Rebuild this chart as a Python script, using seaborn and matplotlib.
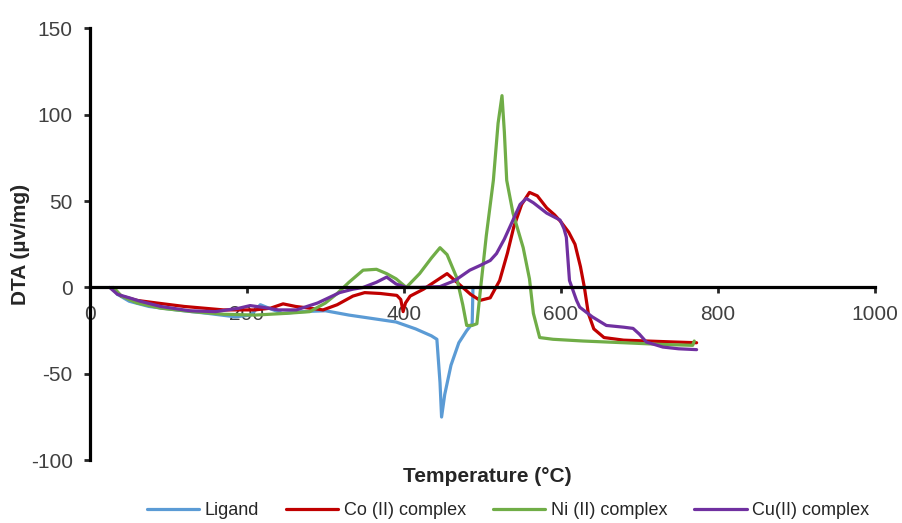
import pandas as pd
import matplotlib
matplotlib.use("Agg")
import matplotlib.pyplot as plt
import seaborn as sns

# values (temperature °C, DTA µv/mg)
lig_t = [28, 35, 50, 75, 110, 150, 185, 205, 217, 228, 245, 270, 300, 330, 360, 390,
         415, 435, 442, 446, 448, 452, 460, 470, 480, 487, 488]
lig_v = [0, -4, -8, -11, -13, -15, -17, -16, -10, -12, -15, -14, -13.5, -16, -18, -20,
         -24, -28, -30, -55, -75, -62, -45, -32, -25, -21, 0]

co_t = [32, 40, 60, 85, 120, 170, 210, 230, 246, 262, 280, 297, 315, 335, 350, 370,
        391, 396, 399, 402, 408, 425, 445, 455, 470, 485, 497, 510, 522, 532, 540, 550,
        560, 570, 582, 592, 600, 610, 618, 625, 630, 635, 642, 655, 680, 710, 740, 773]
co_v = [-2, -5, -7.5, -9, -11, -13, -13, -12, -9.5, -11, -12, -13, -10, -5, -3, -3.5,
        -4.6, -7, -14, -9, -5, -1, 5, 8, 2, -4, -7.5, -6, 4, 20, 35, 48,
        55, 53, 46, 42, 38, 32, 25, 12, 0, -15, -24, -29, -30.5, -31, -31.5, -32]

ni_t = [30, 40, 60, 90, 130, 170, 210, 250, 280, 300, 315, 330, 348, 365, 378, 390,
        403, 420, 435, 446, 455, 467, 475, 480, 487, 493, 497, 505, 514, 520, 525, 528,
        531, 539, 552, 560, 565, 573, 590, 628, 680, 730, 768, 770]
ni_v = [0, -5, -9, -12, -14, -15.5, -16, -15, -14, -9, -3.5, 3, 10, 10.5, 8, 5,
        0, 8, 17, 23, 19, 6, -10, -22, -22, -21, -3.5, 30, 62, 95, 111, 90,
        62, 43, 23, 5, -15, -29, -30, -31, -32, -33, -33.5, -31]

cu_t = [25, 35, 50, 64, 90, 127, 160, 190, 204, 220, 240, 263, 290, 318, 335, 348,
        365, 378, 390, 403, 420, 446, 465, 484, 497, 510, 518, 528, 539, 548, 556, 565,
        582, 599, 604, 607, 611, 620, 624, 640, 658, 680, 692, 700, 709, 730, 750, 773]
cu_v = [0, -4, -6, -8, -11, -13.5, -14, -12, -10.5, -11.5, -13, -13, -9, -3, -1, 0,
        3, 6, 2, 0, 0, 0.5, 4, 10, 12.7, 15.6, 19.6, 28, 39, 48, 51.5, 49,
        43, 39, 34, 29, 4, -7.5, -11.4, -17, -22, -23, -23.7, -27, -31.6, -34.5, -35.5, -36]

names = ["Ligand", "Co (II) complex", "Ni (II) complex", "Cu(II) complex"]
colors = ["#5B9BD5", "#C00000", "#70AD47", "#7030A0"]
series = [(lig_t, lig_v), (co_t, co_v), (ni_t, ni_v), (cu_t, cu_v)]

sns.set_style("white")
plt.rcParams['font.family'] = ['Liberation Sans', 'DejaVu Sans']
plt.rcParams['axes.unicode_minus'] = False

fig = plt.figure(figsize=(9.03, 5.23), dpi=100)
ax = fig.add_axes([0.0997, 0.120, 0.869, 0.826])

for name, col, (t, v) in zip(names, colors, series):
    df = pd.DataFrame({'Temperature': t, 'DTA': v})
    sns.lineplot(data=df, x='Temperature', y='DTA', ax=ax, color=col, lw=2.3,
                 estimator=None, sort=False, label=name)

ax.set_xlim(0, 1000)
ax.set_ylim(-100, 150)
ax.set_xticks(range(0, 1001, 200))
ax.set_yticks(range(-100, 151, 50))

for s in ['top', 'right']:
    ax.spines[s].set_visible(False)
ax.spines['bottom'].set_position(('data', 0))
ax.spines['bottom'].set_linewidth(2.3)
ax.spines['left'].set_linewidth(2.3)
ax.spines['bottom'].set_color('black')
ax.spines['left'].set_color('black')

ax.tick_params(axis='x', direction='out', length=4, width=2, pad=9,
               labelsize=15, labelcolor='#404040', bottom=True)
ax.tick_params(axis='y', direction='out', length=4.5, width=2, pad=8,
               labelsize=15, labelcolor='#404040', left=True)

ax.set_xlabel("Temperature (°C)", fontsize=15, fontweight='bold')
ax.xaxis.set_label_coords(0.506, -0.015)
ax.set_ylabel("DTA (µv/mg)", fontsize=15, fontweight='bold')
ax.yaxis.set_label_coords(-0.076, 0.5)

ax.legend(loc='center', bbox_to_anchor=(0.5625, 0.023), bbox_transform=fig.transFigure,
          ncol=4, frameon=False, fontsize=13, handlelength=2.9, handletextpad=0.3,
          columnspacing=1.5)

fig.savefig("out.png", dpi=100)
